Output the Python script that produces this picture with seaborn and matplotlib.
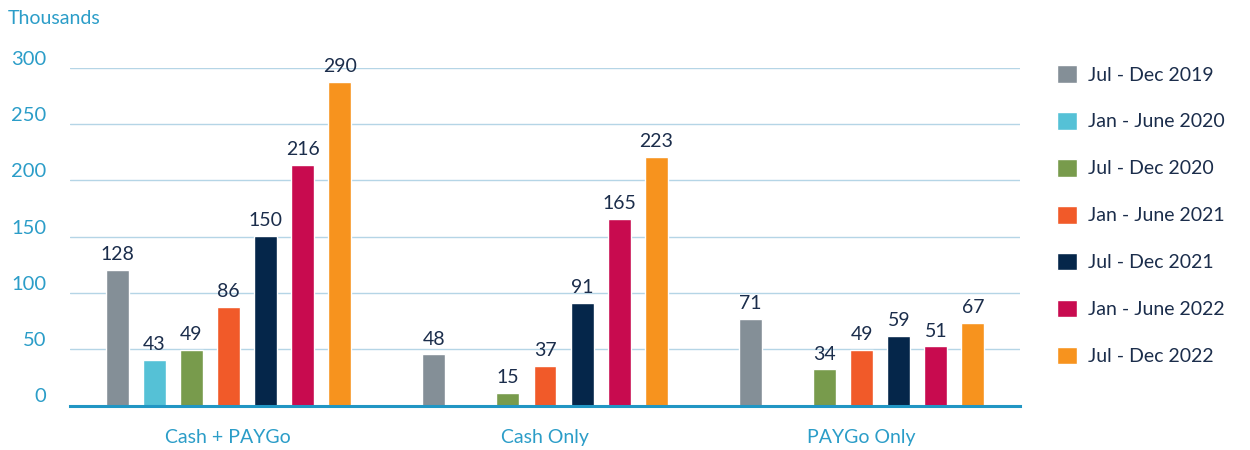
import numpy as np
import pandas as pd
import matplotlib
matplotlib.use("Agg")
import matplotlib.pyplot as plt
import seaborn as sns

groups = ["Cash + PAYGo", "Cash Only", "PAYGo Only"]
periods = ["Jul - Dec 2019", "Jan - June 2020", "Jul - Dec 2020", "Jan - June 2021",
           "Jul - Dec 2021", "Jan - June 2022", "Jul - Dec 2022"]
colors = ["#848f97", "#55c1d6", "#789b4c", "#f15a29", "#05264a", "#c80b4f", "#f7931e"]

# bar heights as drawn (thousands); NaN = no bar
cash_paygo = [120.2, 40.4, 49.2, 87.2, 150.3, 213.8, 287.2]
cash_only = [45.3, np.nan, 11.3, 35.0, 91.3, 166.0, 220.4]
paygo_only = [77.2, np.nan, 32.0, 49.0, 62.1, 52.4, 73.0]

# printed value labels
cash_paygo_lbl = ["128", "43", "49", "86", "150", "216", "290"]
cash_only_lbl = ["48", "", "15", "37", "91", "165", "223"]
paygo_only_lbl = ["71", "", "34", "49", "59", "51", "67"]

blue_txt = "#2b9dc8"
navy_txt = "#1b2d4b"

rows = []
for g, vals, lbls in zip(groups, [cash_paygo, cash_only, paygo_only],
                         [cash_paygo_lbl, cash_only_lbl, paygo_only_lbl]):
    for p, v, l in zip(periods, vals, lbls):
        rows.append({"group": g, "period": p, "value": v, "label": l})
df = pd.DataFrame(rows)

sns.set_style("white")
plt.rcParams["font.family"] = ["Lato", "DejaVu Sans"]

fig = plt.figure(figsize=(12.5, 4.5), dpi=100)
ax = fig.add_axes([70 / 1250, 1 - 405.5 / 450, 950 / 1250, (405.5 - 67.7) / 450])

sns.barplot(data=df.dropna(subset=["value"]), x="group", y="value", hue="period",
            order=groups, hue_order=periods, palette=dict(zip(periods, colors)),
            width=0.82, gap=0.38, saturation=1, ax=ax, legend=True)

# value labels above bars
lookup = {(r.group, r.period): r.label for r in df.itertuples()}
for period, cont in zip(periods, ax.containers):
    for bar in cont:
        h = bar.get_height()
        if np.isnan(h):
            continue
        gi = int(round(bar.get_x() + bar.get_width() / 2))
        ax.annotate(lookup[(groups[gi], period)], (bar.get_x() + bar.get_width() / 2, h),
                    xytext=(0, 5), textcoords="offset points", ha="center", va="bottom",
                    fontsize=14, color=navy_txt, annotation_clip=False)

ax.set_ylim(0, 300)
ax.set_xlim(-0.5, 2.5)
ax.set_yticks([0, 50, 100, 150, 200, 250, 300])
ax.set_yticklabels(["0", "50", "100", "150", "200", "250", "300"], va="bottom")
ax.yaxis.grid(True, color="#b5d5e6", linewidth=1.0)
ax.set_axisbelow(True)
ax.tick_params(axis="y", length=0, pad=17, labelsize=14.5, labelcolor=blue_txt)
ax.tick_params(axis="x", length=0, pad=17, labelsize=14, labelcolor=blue_txt)
ax.set_xlabel("")
ax.set_ylabel("")
for s in ["top", "right", "left"]:
    ax.spines[s].set_visible(False)
ax.spines["bottom"].set_color("#2196c4")
ax.spines["bottom"].set_linewidth(2.2)

handles, labels = ax.get_legend_handles_labels()
ax.get_legend().remove()
fig.legend(handles, labels, loc="upper left", bbox_to_anchor=(1057 / 1250, 1 - 65 / 450),
           frameon=False, fontsize=14, labelcolor=navy_txt, handlelength=1.03,
           handleheight=1.03, handletextpad=0.55, labelspacing=1.46, borderpad=0,
           borderaxespad=0)

fig.text(8 / 1250, 1 - 10 / 450, "Thousands", ha="left", va="top", fontsize=14,
         color=blue_txt)

fig.savefig("out.png", dpi=100)
